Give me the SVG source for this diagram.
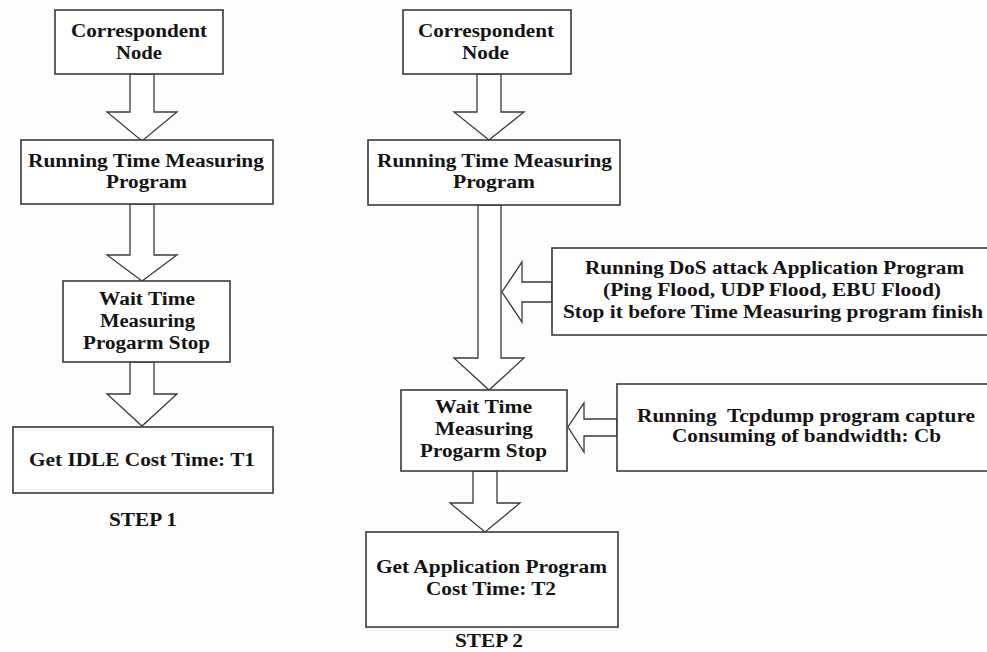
<svg xmlns="http://www.w3.org/2000/svg" width="987" height="652" viewBox="0 0 987 652">
  <style>
    .box { fill: #ffffff; stroke: #3a3a3a; stroke-width: 1.6; }
    .arrow { fill: #ffffff; stroke: #3a3a3a; stroke-width: 1.3; stroke-linejoin: miter; }
    .lbl { font-family: "Liberation Serif", "Times New Roman", serif; font-weight: bold; font-size: 18px; fill: #141414; }
  </style>
  <rect x="0" y="0" width="987" height="652" fill="#fdfdfd"/>

  <!-- block arrows -->
  <g id="connectors">
    <!-- step 1 -->
    <polygon class="arrow" points="130,74 130,112 107,112 142,141 177,112 154,112 154,74"/>
    <polygon class="arrow" points="130,204 130,255 107,255 142,281 177,255 154,255 154,204"/>
    <polygon class="arrow" points="130,362 130,394 107,394 142,426 177,394 154,394 154,362"/>
    <!-- step 2 -->
    <polygon class="arrow" points="477,74 477,112 454,112 489,140 524,112 501,112 501,74"/>
    <polygon class="arrow" points="478,205 478,358 454,358 489,390 524,358 501,358 501,205"/>
    <polygon class="arrow" points="473,471 473,503 450,503 485,532 520,503 497,503 497,471"/>
    <!-- side inputs -->
    <polygon class="arrow" points="552,282 522,282 522,262 502,292 522,322 522,302 552,302"/>
    <polygon class="arrow" points="617,419 584,419 584,403 568,427 584,452 584,436 617,436"/>
  </g>

  <!-- STEP 1 column -->
  <g id="s1-correspondent">
    <rect class="box" x="55" y="10" width="168" height="64"/>
    <text class="lbl" x="71" y="37" textLength="136" lengthAdjust="spacingAndGlyphs">Correspondent</text>
    <text class="lbl" x="116" y="59" textLength="46" lengthAdjust="spacingAndGlyphs">Node</text>
  </g>
  <g id="s1-running">
    <rect class="box" x="21" y="140" width="252" height="64"/>
    <text class="lbl" x="28" y="167" textLength="236" lengthAdjust="spacingAndGlyphs">Running Time Measuring</text>
    <text class="lbl" x="106" y="188" textLength="81" lengthAdjust="spacingAndGlyphs">Program</text>
  </g>
  <g id="s1-wait">
    <rect class="box" x="63" y="281" width="167" height="81"/>
    <text class="lbl" x="99" y="305" textLength="96" lengthAdjust="spacingAndGlyphs">Wait Time</text>
    <text class="lbl" x="100" y="327" textLength="95" lengthAdjust="spacingAndGlyphs">Measuring</text>
    <text class="lbl" x="83" y="349" textLength="127" lengthAdjust="spacingAndGlyphs">Progarm Stop</text>
  </g>
  <g id="s1-idle">
    <rect class="box" x="13" y="427" width="260" height="66"/>
    <text class="lbl" x="29" y="466" textLength="226" lengthAdjust="spacingAndGlyphs">Get IDLE Cost Time: T1</text>
  </g>
  <text id="step1" class="lbl" x="109" y="526" textLength="68" lengthAdjust="spacingAndGlyphs">STEP 1</text>

  <!-- STEP 2 column -->
  <g id="s2-correspondent">
    <rect class="box" x="403" y="10" width="168" height="64"/>
    <text class="lbl" x="418" y="37" textLength="136" lengthAdjust="spacingAndGlyphs">Correspondent</text>
    <text class="lbl" x="462" y="59" textLength="47" lengthAdjust="spacingAndGlyphs">Node</text>
  </g>
  <g id="s2-running">
    <rect class="box" x="368" y="140" width="252" height="65"/>
    <text class="lbl" x="377" y="167" textLength="235" lengthAdjust="spacingAndGlyphs">Running Time Measuring</text>
    <text class="lbl" x="453" y="188" textLength="82" lengthAdjust="spacingAndGlyphs">Program</text>
  </g>
  <g id="s2-dos">
    <rect class="box" x="552" y="248" width="445" height="87"/>
    <text class="lbl" x="585" y="274" textLength="379" lengthAdjust="spacingAndGlyphs">Running DoS attack Application Program</text>
    <text class="lbl" x="603" y="296" textLength="338" lengthAdjust="spacingAndGlyphs">(Ping Flood, UDP Flood, EBU Flood)</text>
    <text class="lbl" x="563" y="318" textLength="420" lengthAdjust="spacingAndGlyphs">Stop it before Time Measuring program finish</text>
  </g>
  <g id="s2-wait">
    <rect class="box" x="401" y="390" width="166" height="81"/>
    <text class="lbl" x="435" y="413" textLength="97" lengthAdjust="spacingAndGlyphs">Wait Time</text>
    <text class="lbl" x="435" y="435" textLength="98" lengthAdjust="spacingAndGlyphs">Measuring</text>
    <text class="lbl" x="420" y="457" textLength="127" lengthAdjust="spacingAndGlyphs">Progarm Stop</text>
  </g>
  <g id="s2-tcpdump">
    <rect class="box" x="617" y="384" width="380" height="87"/>
    <text class="lbl" x="637" y="422" textLength="338" lengthAdjust="spacingAndGlyphs" xml:space="preserve">Running  Tcpdump program capture</text>
    <text class="lbl" x="672" y="442" textLength="269" lengthAdjust="spacingAndGlyphs">Consuming of bandwidth: Cb</text>
  </g>
  <g id="s2-app">
    <rect class="box" x="366" y="532" width="252" height="95"/>
    <text class="lbl" x="376" y="573" textLength="231" lengthAdjust="spacingAndGlyphs">Get Application Program</text>
    <text class="lbl" x="426" y="595" textLength="130" lengthAdjust="spacingAndGlyphs">Cost Time: T2</text>
  </g>
  <text id="step2" class="lbl" x="455" y="647" textLength="68" lengthAdjust="spacingAndGlyphs">STEP 2</text>
</svg>
